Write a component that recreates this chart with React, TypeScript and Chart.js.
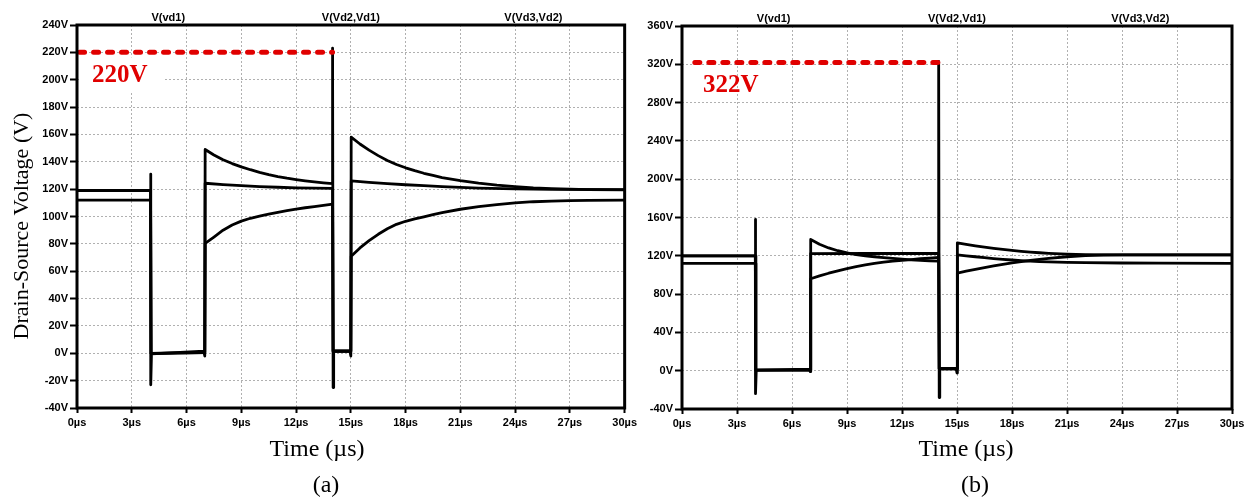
import React, { useEffect, useRef } from "react";
import { Chart, registerables } from "chart.js";

Chart.register(...registerables);

// ---------- axis ticks ----------
const timeTicks = [0, 3, 6, 9, 12, 15, 18, 21, 24, 27, 30];
const voltTicksA = [-40, 240, 20];
const voltTicksB = [-40, 360, 40];
const signalNames = ["V(vd1)", "V(Vd2,Vd1)", "V(Vd3,Vd2)"];

// ---------- chart (a) ----------
const timeA1 = [0, 4.03, 4.03, 4.05, 4.08, 6.95, 7.0, 7.02, 7.5, 8, 8.5, 9, 9.5, 10, 10.5, 11, 11.5, 12, 12.5, 13, 13.5, 14, 14.0, 14.03, 14.06, 14.95, 15.0, 15.02, 15.5, 16, 16.5, 17, 17.5, 18, 18.5, 19, 19.5, 20, 21, 22, 23, 24, 25, 26, 27, 28, 30];
const voltA1 = [119, 119, 131, -23, -0.5, 1.5, -2, 149, 145, 141.5, 138.7, 136.3, 134.2, 132.3, 130.6, 129.2, 128, 127, 126.1, 125.3, 124.6, 124, 223, -25, 1.7, 1.7, -2, 158, 153, 148.5, 144.5, 141, 138, 135.6, 133.5, 131.6, 130, 128.5, 126.2, 124.4, 123, 121.9, 121, 120.4, 120, 119.7, 119.5];
const timeA2 = [0, 4.03, 4.06, 7.0, 7.02, 8, 9, 10, 11, 12, 13, 14, 14.03, 15, 15.02, 16, 17, 18, 19, 20, 22, 24, 26, 30];
const voltA2 = [119, 119, 0, 0.5, 124.3, 123.3, 122.5, 121.9, 121.4, 121, 120.8, 120.6, 1.5, 1.5, 126, 125, 124, 123.2, 122.5, 121.8, 120.8, 120.2, 119.9, 119.7];
const timeA3 = [0, 4.03, 4.06, 7.0, 7.02, 7.5, 8, 8.5, 9, 9.5, 10, 10.5, 11, 11.5, 12, 12.5, 13, 13.5, 14, 14.03, 15, 15.02, 15.5, 16, 16.5, 17, 17.5, 18, 18.5, 19, 19.5, 20, 21, 22, 23, 24, 25, 26, 27, 28, 30];
const voltA3 = [112, 112, 0, 0.5, 80.4, 85, 90, 93.8, 96.6, 98.7, 100.3, 101.8, 103.1, 104.3, 105.4, 106.4, 107.3, 108.2, 109, 1.5, 1.5, 71, 77, 82.3, 87, 91, 94.3, 96.5, 98.2, 99.8, 101.3, 102.8, 105.3, 107.2, 108.7, 110, 110.8, 111.3, 111.6, 111.8, 112];
const peakTimeA = [0.14, 14];
const peakVoltA = [220, 220];
const peakLabelA = "220V";

// ---------- chart (b) ----------
const timeB1 = [0, 4.0, 4.0, 4.02, 4.05, 6.95, 7.0, 7.02, 7.5, 8, 8.5, 9, 9.5, 10, 10.5, 11, 11.5, 12, 12.5, 13, 13.5, 14, 14.0, 14.03, 14.06, 14.95, 15.0, 15.02, 15.5, 16, 16.5, 17, 17.5, 18, 18.5, 19, 19.5, 20, 21, 22, 24, 30];
const voltB1 = [120, 120, 158, -24, 0.5, 1.5, -1, 137, 132, 128.2, 125.3, 123, 121.2, 120, 119, 118.2, 117.4, 116.6, 115.8, 115.2, 114.7, 114.4, 323, -28, 2.5, 2.5, -2.5, 133.6, 132, 130.4, 129, 127.7, 126.6, 125.6, 124.7, 123.9, 123.2, 122.6, 121.7, 121.2, 121, 121];
const timeB2 = [0, 4.0, 4.03, 7.0, 7.02, 10, 14, 14.03, 15, 15.02, 15.5, 16, 16.5, 17, 17.5, 18, 18.5, 19, 19.5, 20, 21, 22, 24, 26, 30];
const voltB2 = [120, 120, 0.5, 0.5, 122.3, 122.4, 122.5, 2, 2, 121, 120, 119, 118, 117.1, 116.3, 115.6, 115, 114.5, 114, 113.6, 113.2, 112.9, 112.5, 112.3, 112];
const timeB3 = [0, 4.0, 4.03, 7.0, 7.02, 7.5, 8, 8.5, 9, 9.5, 10, 10.5, 11, 11.5, 12, 12.5, 13, 13.5, 14, 14.03, 15, 15.02, 15.5, 16, 16.5, 17, 17.5, 18, 18.5, 19, 19.5, 20, 21, 22, 23, 24, 30];
const voltB3 = [112, 112, 0.5, 0.5, 96, 99, 101.8, 104.3, 106.6, 108.7, 110.4, 112, 113.3, 114.4, 115.3, 116.1, 116.9, 117.6, 118.3, 2, 2, 102, 104, 105.9, 107.7, 109.4, 111, 112.5, 113.9, 115.1, 116.2, 117.3, 119, 120.2, 120.8, 121, 121];
const peakTimeB = [0.7, 14];
const peakVoltB = [322, 322];
const peakLabelB = "322V";

const SANS = "Arial, 'Liberation Sans', sans-serif";
const SERIF = "'Times New Roman', 'Liberation Serif', serif";

const zip = (xs: number[], ys: number[]) => xs.map((x, i) => ({ x, y: ys[i] }));

interface PanelCfg {
  width: number;
  traces: { x: number[]; y: number[] }[];
  peakT: number[];
  peakV: number[];
  peakLabel: string;
  yTicks: number[];
  pad: { top: number; right: number };
  yAxisWidth: number;
  xAxisHeight: number;
  showYTitle: boolean;
  xTitleX: number;
  caption: string;
  whiteBox: boolean;
}

function makeDecorPlugin(cfg: PanelCfg) {
  return {
    id: "decor",
    beforeDatasetsDraw(chart: any) {
      const { ctx, chartArea, scales } = chart;
      if (cfg.whiteBox) {
        const yTop = scales.y.getPixelForValue(cfg.peakV[0]) + 5;
        ctx.save();
        ctx.fillStyle = "#fff";
        ctx.fillRect(chartArea.left + 2, yTop, 84, 34);
        ctx.restore();
      }
    },
    afterDatasetsDraw(chart: any) {
      const { ctx, chartArea, scales } = chart;
      const { left, top, right, bottom } = chartArea;
      ctx.save();
      // frame
      ctx.strokeStyle = "#000";
      ctx.lineWidth = 3;
      ctx.strokeRect(left, top, right - left, bottom - top);
      // signal names
      ctx.fillStyle = "#000";
      ctx.font = `bold 11px ${SANS}`;
      ctx.textAlign = "center";
      ctx.textBaseline = "middle";
      const fr = [1 / 6, 1 / 2, 5 / 6];
      signalNames.forEach((s, i) => {
        ctx.fillText(s, left + fr[i] * (right - left), top - 7);
      });
      // peak label
      ctx.fillStyle = "#e00000";
      ctx.font = `bold 25px ${SERIF}`;
      ctx.textAlign = "left";
      ctx.textBaseline = "alphabetic";
      const yp = scales.y.getPixelForValue(cfg.peakV[0]);
      ctx.fillText(cfg.peakLabel, left + (cfg.whiteBox ? 15 : 21), yp + 30);
      // x title and caption
      ctx.fillStyle = "#000";
      ctx.textAlign = "center";
      ctx.textBaseline = "middle";
      ctx.font = `24px ${SERIF}`;
      ctx.fillText("Time (\u00b5s)", cfg.xTitleX, 450);
      ctx.fillText(cfg.caption, cfg.xTitleX + 9, 486);
      if (cfg.showYTitle) {
        ctx.translate(22, 226);
        ctx.rotate(-Math.PI / 2);
        ctx.font = `22px ${SERIF}`;
        ctx.fillText("Drain-Source Voltage (V)", 0, 0);
      }
      ctx.restore();
    },
  };
}

function Panel({ cfg }: { cfg: PanelCfg }) {
  const ref = useRef<HTMLCanvasElement>(null);
  useEffect(() => {
    if (!ref.current) return;
    const tickFont = { family: SANS, weight: "bold" as const, size: 11 };
    const grid = {
      color: "#b0b0b0",
      lineWidth: 1,
      borderDash: [2, 2],
      tickBorderDash: [],
      tickColor: "#000",
      tickWidth: 2,
    };
    const border = { display: false, dash: [2, 2] };
    const chart = new Chart(ref.current, {
      type: "scatter",
      data: {
        datasets: [
          {
            data: zip(cfg.peakT, cfg.peakV),
            showLine: true,
            borderColor: "#e00000",
            borderWidth: 5,
            borderDash: [5, 9],
            borderCapStyle: "round",
            pointRadius: 0,
          },
          ...cfg.traces.map((t) => ({
            data: zip(t.x, t.y),
            showLine: true,
            borderColor: "#000",
            borderWidth: 2.8,
            borderJoinStyle: "round" as const,
            pointRadius: 0,
          })),
        ],
      },
      options: {
        responsive: false,
        animation: false,
        events: [],
        layout: { padding: { top: cfg.pad.top, right: cfg.pad.right, left: 0, bottom: 0 } },
        plugins: { legend: { display: false }, tooltip: { enabled: false } },
        scales: {
          x: {
            type: "linear",
            min: timeTicks[0],
            max: timeTicks[timeTicks.length - 1],
            afterBuildTicks: (s: any) => {
              s.ticks = timeTicks.map((v) => ({ value: v }));
            },
            ticks: {
              autoSkip: false,
              maxRotation: 0,
              color: "#000",
              font: tickFont,
              padding: 3,
              callback: (v: any) => `${v}\u00b5s`,
            },
            grid: { ...grid, tickLength: 5 },
            border,
            afterFit: (s: any) => {
              s.height = cfg.xAxisHeight;
            },
          },
          y: {
            type: "linear",
            min: cfg.yTicks[0],
            max: cfg.yTicks[1],
            ticks: {
              stepSize: cfg.yTicks[2],
              autoSkip: false,
              color: "#000",
              font: tickFont,
              padding: 2,
              callback: (v: any) => `${v}V`,
            },
            grid: { ...grid, tickLength: 7 },
            border,
            afterFit: (s: any) => {
              s.width = cfg.yAxisWidth;
            },
          },
        },
      } as any,
      plugins: [makeDecorPlugin(cfg)],
    });
    return () => chart.destroy();
  }, [cfg]);
  return <canvas ref={ref} width={cfg.width} height={499} style={{ display: "block" }} />;
}

const cfgA: PanelCfg = {
  width: 640,
  traces: [
    { x: timeA1, y: voltA1 },
    { x: timeA2, y: voltA2 },
    { x: timeA3, y: voltA3 },
  ],
  peakT: peakTimeA,
  peakV: peakVoltA,
  peakLabel: peakLabelA,
  yTicks: voltTicksA,
  pad: { top: 25, right: 12 },
  yAxisWidth: 77,
  xAxisHeight: 91,
  showYTitle: true,
  xTitleX: 317,
  caption: "(a)",
  whiteBox: true,
};

const cfgB: PanelCfg = {
  width: 610,
  traces: [
    { x: timeB1, y: voltB1 },
    { x: timeB2, y: voltB2 },
    { x: timeB3, y: voltB3 },
  ],
  peakT: peakTimeB,
  peakV: peakVoltB,
  peakLabel: peakLabelB,
  yTicks: voltTicksB,
  pad: { top: 26, right: 18 },
  yAxisWidth: 42,
  xAxisHeight: 90,
  showYTitle: false,
  xTitleX: 326,
  caption: "(b)",
  whiteBox: false,
};

export default function App() {
  return (
    <div
      style={{
        position: "absolute",
        left: 0,
        top: 0,
        width: 1250,
        height: 499,
        background: "#fff",
        display: "flex",
      }}
    >
      <Panel cfg={cfgA} />
      <Panel cfg={cfgB} />
    </div>
  );
}
